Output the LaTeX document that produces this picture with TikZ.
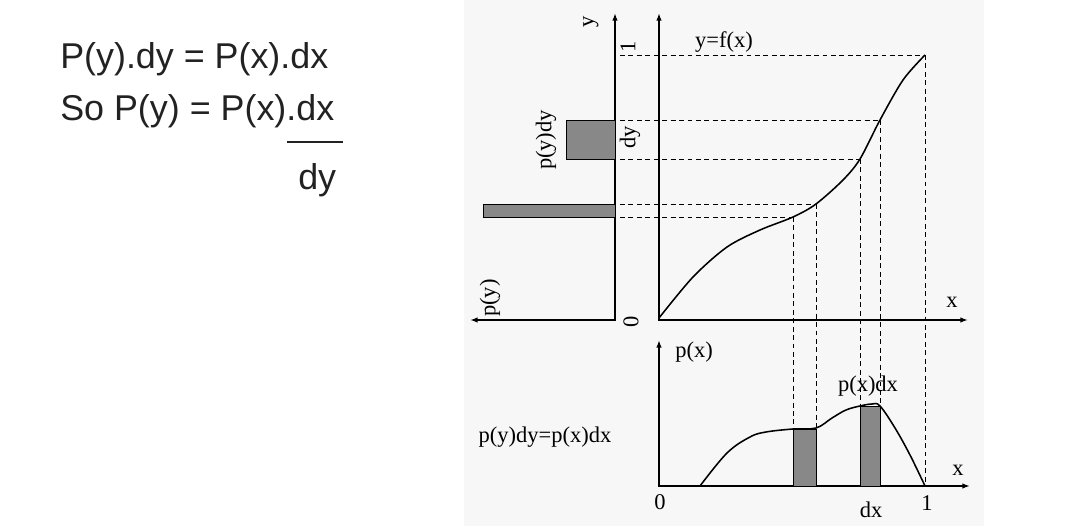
\documentclass[tikz,border=0pt]{standalone}
\usepackage{fontspec}
\setmainfont{Liberation Serif}
\newfontfamily\notefont{Liberation Sans}
\usetikzlibrary{arrows.meta,positioning}
\definecolor{panelgrey}{HTML}{F7F7F7}
\definecolor{barfill}{HTML}{888888}
\definecolor{notetext}{HTML}{222222}

\begin{document}
\begin{tikzpicture}[x=0.025cm,y=-0.025cm,
  axis/.style={line width=1.2pt,{Latex[length=5.5pt,width=4pt]}-{Latex[length=5.5pt,width=4pt]}},
  guide/.style={line width=0.6pt,dash pattern=on 3.5pt off 2.5pt},
  bar/.style={draw=black,line width=0.7pt,fill=barfill},
  curve/.style={line width=1.1pt,line join=round},
  lbl/.style={font=\fontsize{16}{18}\selectfont,inner sep=0pt},
  vlbl/.style={lbl,rotate=90},
  note/.style={font=\notefont\fontsize{25.5}{30}\selectfont,inner sep=0pt,anchor=base west,text=notetext}]
\useasboundingbox (0,0) rectangle (1080,526);
\fill[panelgrey] (464,0) rectangle (984,526);

% left hand notes
\node[note] (eq1) at (60,68) {P(y).dy = P(x).dx};
\node[note] (eq2) at (60,120) {So P(y) = P(x).dx};
\node[note] (eq3) at (298,189) {dy};
\draw[notetext,line width=1.5pt] (287,142) -- (343,142);

% axes
\coordinate (pyO) at (615,320);
\coordinate (fO) at (659,320);
\coordinate (pxO) at (659,486);
\coordinate (ax) at (620,0);
\draw[axis] (615,13) -- (pyO) -- (470,320);
\draw[axis] (659,13) -- (fO) -- (968,320);
\draw[axis] (659,340) -- (pxO) -- (970,486);

% points on y=f(x) and on p(x)
\coordinate (f1) at (793,217);
\coordinate (f2) at (816,204);
\coordinate (f3) at (860,159);
\coordinate (f4) at (880,120);
\coordinate (fE) at (925,55);
\coordinate (g1) at (793,429);
\coordinate (g2) at (816,428);
\coordinate (g3) at (860,406);
\coordinate (g4) at (880,406);
\coordinate (gE) at (925,486);

% guide lines
\foreach \p in {f1,f2,f3,f4,fE}
  \draw[guide] (\p -| ax) -- (\p);
\draw[guide] (f1) -- (g1);
\draw[guide] (f2) -- (g2);
\draw[guide] (f3) -- (g3);
\draw[guide] (f4) -- (g4);
\draw[guide] (fE) -- (gE);

% bars
\draw[bar] (566,120) rectangle (615,159);
\draw[bar] (483,204) rectangle (615,217);
\draw[bar] (793,429) rectangle (816,486);
\draw[bar] (860,406) rectangle (880,486);

% curves
\draw[curve] plot[smooth] coordinates {(659,318) (693,277) (727,247) (760,230)
  (f1) (f2) (843,180) (f3) (f4) (903,80) (fE)};
\draw[curve] plot[smooth,tension=0.6] coordinates {(700,486) (727,453) (750,437)
  (766,432) (g1) (g2) (832,418) (846,410) (g3) (872,404) (g4) (895,428)
  (910,455) (gE)};

% labels
\node[vlbl] (ylab) at (591,22) {y};
\node[vlbl] (one) at (628,47) {1};
\node[vlbl] (dylab) at (630,137) {dy};
\node[vlbl] (pydy) at (546,140) {p(y)dy};
\node[vlbl] (pylab) at (490,298) {p(y)};
\node[vlbl] (zero) at (631,322) {0};
\node[lbl] (fxlab) at (724,42) {y=f(x)};
\node[lbl] (xtop) at (952,302) {x};
\node[lbl] (pxlab) at (694,352) {p(x)};
\node[lbl] (pxdx) at (868,386) {p(x)dx};
\node[lbl] (rule) at (545,437) {p(y)dy=p(x)dx};
\node[lbl] (zerob) at (660,502) {0};
\node[lbl] (oneb) at (927,503) {1};
\node[lbl] (dxlab) at (871,510) {dx};
\node[lbl] (xbot) at (958,470) {x};
\end{tikzpicture}
\end{document}
